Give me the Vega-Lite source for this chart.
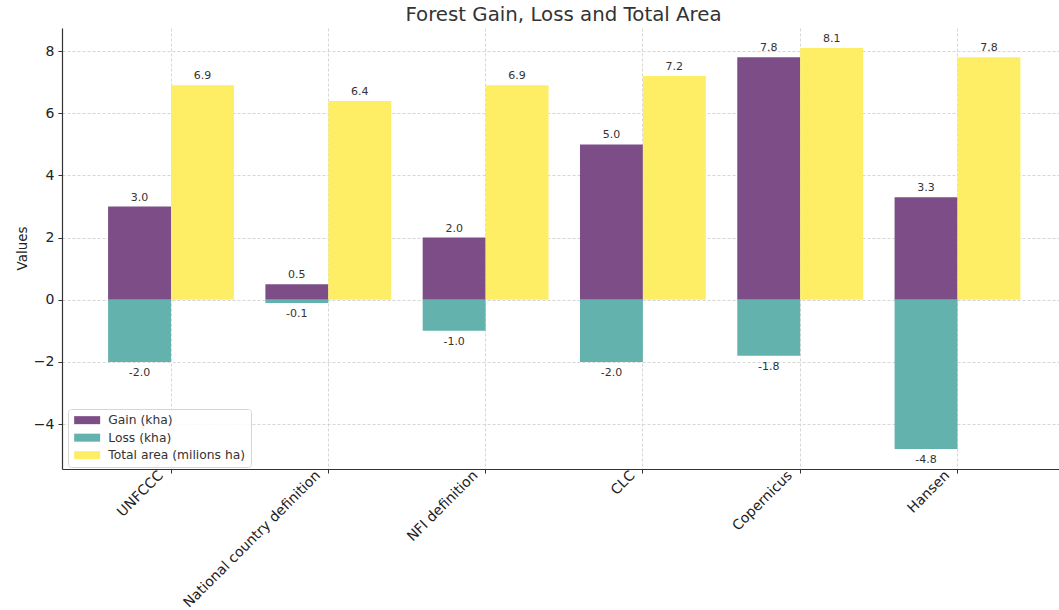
{
  "$schema": "https://vega.github.io/schema/vega-lite/v6.json",
  "autosize": {"type": "none"},
  "width": 997,
  "height": 441,
  "padding": {"left": 62, "top": 28, "right": 0, "bottom": 141},
  "background": "white",
  "config": {
    "font": "DejaVu Sans",
    "view": {"stroke": null},
    "axis": {"labelFont": "DejaVu Sans", "titleFont": "DejaVu Sans"},
    "legend": {"labelFont": "DejaVu Sans"}
  },
  "title": {
    "text": "Forest Gain, Loss and Total Area",
    "font": "DejaVu Sans",
    "fontSize": 19.8,
    "fontWeight": "normal",
    "color": "#333333",
    "anchor": "middle",
    "frame": "group",
    "baseline": "alphabetic",
    "offset": 6,
    "dx": 3,
    "dy": 19
  },
  "data": {
    "values": [
      {"definition": "UNFCCC", "series": "Gain (kha)", "measure": "change", "value": 3.0},
      {"definition": "UNFCCC", "series": "Loss (kha)", "measure": "change", "value": -2.0},
      {"definition": "UNFCCC", "series": "Total area (milions ha)", "measure": "area", "value": 6.9},
      {"definition": "National country definition", "series": "Gain (kha)", "measure": "change", "value": 0.5},
      {"definition": "National country definition", "series": "Loss (kha)", "measure": "change", "value": -0.1},
      {"definition": "National country definition", "series": "Total area (milions ha)", "measure": "area", "value": 6.4},
      {"definition": "NFI definition", "series": "Gain (kha)", "measure": "change", "value": 2.0},
      {"definition": "NFI definition", "series": "Loss (kha)", "measure": "change", "value": -1.0},
      {"definition": "NFI definition", "series": "Total area (milions ha)", "measure": "area", "value": 6.9},
      {"definition": "CLC", "series": "Gain (kha)", "measure": "change", "value": 5.0},
      {"definition": "CLC", "series": "Loss (kha)", "measure": "change", "value": -2.0},
      {"definition": "CLC", "series": "Total area (milions ha)", "measure": "area", "value": 7.2},
      {"definition": "Copernicus", "series": "Gain (kha)", "measure": "change", "value": 7.8},
      {"definition": "Copernicus", "series": "Loss (kha)", "measure": "change", "value": -1.8},
      {"definition": "Copernicus", "series": "Total area (milions ha)", "measure": "area", "value": 8.1},
      {"definition": "Hansen", "series": "Gain (kha)", "measure": "change", "value": 3.3},
      {"definition": "Hansen", "series": "Loss (kha)", "measure": "change", "value": -4.8},
      {"definition": "Hansen", "series": "Total area (milions ha)", "measure": "area", "value": 7.8}
    ]
  },
  "transform": [
    {"calculate": "replace(format(datum.value, '.1f'), '\u2212', '-')", "as": "label"}
  ],
  "encoding": {
    "x": {
      "field": "definition",
      "type": "nominal",
      "sort": null,
      "scale": {"range": [0, 1004.5], "paddingInner": 0.2, "paddingOuter": 0.293},
      "axis": {
        "title": null,
        "labelAngle": -45,
        "labelAlign": "right",
        "labelBaseline": "middle",
        "labelFontSize": 14,
        "labelColor": "#222222",
        "labelPadding": 0,
        "labelOffset": -10,
        "labelLimit": 0,
        "domainColor": "#333333",
        "domainWidth": 1.2,
        "tickColor": "#333333",
        "tickSize": 4,
        "grid": true,
        "gridColor": "#cccccc",
        "gridDash": [3, 2],
        "gridWidth": 0.8
      }
    },
    "xOffset": {"field": "measure", "type": "nominal", "scale": {"domain": ["change", "area"], "paddingInner": 0, "paddingOuter": 0}},
    "y": {
      "field": "value",
      "type": "quantitative",
      "scale": {"domain": [-5.445, 8.745], "nice": false, "zero": false},
      "axis": {
        "title": "Values",
        "titleFontSize": 13.5,
        "titleFontWeight": "normal",
        "titleColor": "#222222",
        "titleX": -40,
        "titleY": 220,
        "titleAlign": "center",
        "titleBaseline": "middle",
        "values": [-4, -2, 0, 2, 4, 6, 8],
        "labelFontSize": 14,
        "labelColor": "#222222",
        "labelPadding": 4,
        "labelExpr": "replace(datum.label, '-', '\u2212')",
        "domainColor": "#333333",
        "domainWidth": 1.2,
        "tickColor": "#333333",
        "tickSize": 4,
        "grid": true,
        "gridColor": "#cccccc",
        "gridDash": [3, 2],
        "gridWidth": 0.8
      }
    }
  },
  "layer": [
    {
      "mark": {"type": "bar"},
      "encoding": {
        "y2": {"datum": 0},
        "color": {
          "field": "series",
          "type": "nominal",
          "scale": {
            "domain": ["Gain (kha)", "Loss (kha)", "Total area (milions ha)"],
            "range": ["#7c4d87", "#64b2ae", "#feee66"]
          },
          "legend": {
            "title": null,
            "orient": "none",
            "legendX": 6,
            "legendY": 381,
            "labelFontSize": 12.3,
            "labelColor": "#333333",
            "symbolType": "M-2.6,-0.8L2.6,-0.8L2.6,0.8L-2.6,0.8Z",
            "symbolSize": 100,
            "symbolOffset": 8,
            "symbolOpacity": 1,
            "symbolStrokeWidth": 0,
            "labelOffset": 15,
            "rowPadding": 4.5,
            "padding": 5,
            "strokeColor": "#d6d6d6",
            "fillColor": "rgba(255,255,255,0.85)",
            "cornerRadius": 3
          }
        }
      }
    },
    {
      "transform": [{"filter": "datum.value >= 0"}],
      "mark": {"type": "text", "baseline": "bottom", "dy": -4, "fontSize": 11, "color": "#333333"},
      "encoding": {"text": {"field": "label", "type": "nominal"}}
    },
    {
      "transform": [{"filter": "datum.value < 0"}],
      "mark": {"type": "text", "baseline": "top", "dy": 5, "fontSize": 11, "color": "#333333"},
      "encoding": {"text": {"field": "label", "type": "nominal"}}
    }
  ]
}
